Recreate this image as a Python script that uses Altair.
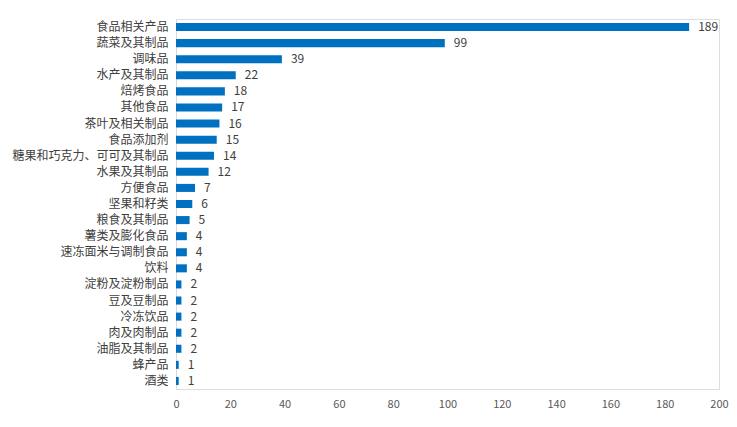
import altair as alt
import pandas as pd

categories = ["食品相关产品", "蔬菜及其制品", "调味品", "水产及其制品", "焙烤食品", "其他食品",
              "茶叶及相关制品", "食品添加剂", "糖果和巧克力、可可及其制品", "水果及其制品", "方便食品",
              "坚果和籽类", "粮食及其制品", "薯类及膨化食品", "速冻面米与调制食品", "饮料",
              "淀粉及淀粉制品", "豆及豆制品", "冷冻饮品", "肉及肉制品", "油脂及其制品", "蜂产品", "酒类"]
values = [189, 99, 39, 22, 18, 17, 16, 15, 14, 12, 7, 6, 5, 4, 4, 4, 2, 2, 2, 2, 2, 1, 1]

df = pd.DataFrame({"cat": categories, "val": values})

font = "Noto Sans CJK SC"

y = alt.Y("cat:N", sort=categories, title=None,
          scale=alt.Scale(paddingInner=0.5, paddingOuter=0.25),
          axis=alt.Axis(ticks=False, domainColor="#d9d9d9", labelColor="#404040",
                        labelFontSize=12, labelFont=font, labelPadding=8))
x = alt.X("val:Q", title=None,
          scale=alt.Scale(domain=[0, 200], nice=False),
          axis=alt.Axis(values=list(range(0, 201, 20)), grid=False, domain=False, ticks=False,
                        labelFlush=False, labelColor="#595959", labelFontSize=11,
                        labelFont=font, labelPadding=9))

bars = alt.Chart(df).mark_bar(color="#0070C0").encode(x=x, y=y)
text = alt.Chart(df).mark_text(align="left", baseline="middle", dx=9, fontSize=12,
                               font=font, color="#404040").encode(
    x=alt.X("val:Q"), y=alt.Y("cat:N", sort=categories), text="val:Q")

chart = (bars + text).properties(
    width=543, height=370,
    autosize=alt.AutoSizeParams(type="none"),
    padding={"left": 168, "top": 11, "right": 10, "bottom": 28},
).configure_view(stroke=None).configure(background="white")

chart.save("out.html", embed_options={"renderer": "svg", "actions": False})
